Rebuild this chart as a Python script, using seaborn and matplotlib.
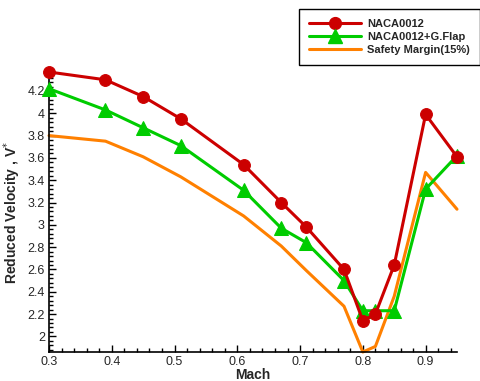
import numpy as np
import pandas as pd
import matplotlib
matplotlib.use("Agg")
import matplotlib.pyplot as plt
import seaborn as sns
from matplotlib.ticker import MultipleLocator, FuncFormatter
from matplotlib.lines import Line2D

mach = [0.30, 0.39, 0.45, 0.51, 0.61, 0.67, 0.71, 0.77, 0.80, 0.82, 0.85, 0.90, 0.95]
naca = [4.37, 4.30, 4.15, 3.95, 3.54, 3.20, 2.98, 2.60, 2.14, 2.20, 2.64, 3.99, 3.61]
flap = [4.22, 4.03, 3.87, 3.71, 3.31, 2.97, 2.84, 2.50, 2.23, 2.23, 2.23, 3.32, 3.62]
safety = [3.80, 3.75, 3.61, 3.43, 3.08, 2.81, 2.59, 2.27, 1.86, 1.91, 2.36, 3.47, 3.14]
labels = ["NACA0012", "NACA0012+G.Flap", "Safety Margin(15%)"]

sns.set_style("ticks")
plt.rcParams['font.family'] = ['Liberation Sans', 'DejaVu Sans']

fig = plt.figure(figsize=(4.81, 3.81), dpi=100)
ax = fig.add_axes([49/481, 1-352/381, (457-49)/481, (352-72)/381])

red = "#CC0000"
green = "#00CC00"
orange = "#FF8000"

df = pd.DataFrame({"Mach": mach, "NACA": naca, "Flap": flap, "Safety": safety})
sns.lineplot(data=df, x="Mach", y="Safety", ax=ax, color=orange, lw=2.2, clip_on=False, zorder=2)
sns.lineplot(data=df, x="Mach", y="Flap", ax=ax, color=green, lw=2.2, marker="^", markersize=10,
             markeredgecolor=green, clip_on=False, zorder=3)
sns.lineplot(data=df, x="Mach", y="NACA", ax=ax, color=red, lw=2.2, marker="o", markersize=8.5,
             markeredgecolor=red, clip_on=False, zorder=4)

ax.set_xlim(0.3, 0.95)
ax.set_ylim(1.86, 4.37)
ax.xaxis.set_major_locator(MultipleLocator(0.1))
ax.xaxis.set_minor_locator(MultipleLocator(0.02))
ax.yaxis.set_major_locator(MultipleLocator(0.2))
ax.yaxis.set_minor_locator(MultipleLocator(0.04))
ax.xaxis.set_major_formatter(FuncFormatter(lambda v, p: f"{v:g}"))
ax.yaxis.set_major_formatter(FuncFormatter(lambda v, p: f"{round(v, 2):g}"))
ax.tick_params(which="both", direction="in", color="black", width=1)
ax.tick_params(which="major", length=5, labelsize=9, pad=3)
ax.tick_params(which="minor", length=3)
for s in ["top", "right"]:
    ax.spines[s].set_visible(False)
for s in ["left", "bottom"]:
    ax.spines[s].set_linewidth(1.2)
    ax.spines[s].set_color("black")

ax.set_xlabel("Mach", fontsize=10, fontweight="bold", labelpad=0)
ax.set_ylabel(r"Reduced Velocity , V$^{*}$", fontsize=10, fontweight="bold", labelpad=3)

handles = [
    Line2D([], [], color=red, lw=2.2, marker="o", markersize=8.5),
    Line2D([], [], color=green, lw=2.2, marker="^", markersize=10),
    Line2D([], [], color=orange, lw=2.2),
]
leg = fig.legend(handles, labels, loc="upper right", bbox_to_anchor=(480/481, 1-9/381),
                 frameon=True, fancybox=False, edgecolor="black", framealpha=1,
                 prop={"weight": "bold", "size": 8}, handlelength=4.6, handletextpad=0.6,
                 labelspacing=0.25, borderpad=0.9, borderaxespad=0)
leg.get_frame().set_linewidth(1.0)

fig.savefig("out.png", dpi=100)
